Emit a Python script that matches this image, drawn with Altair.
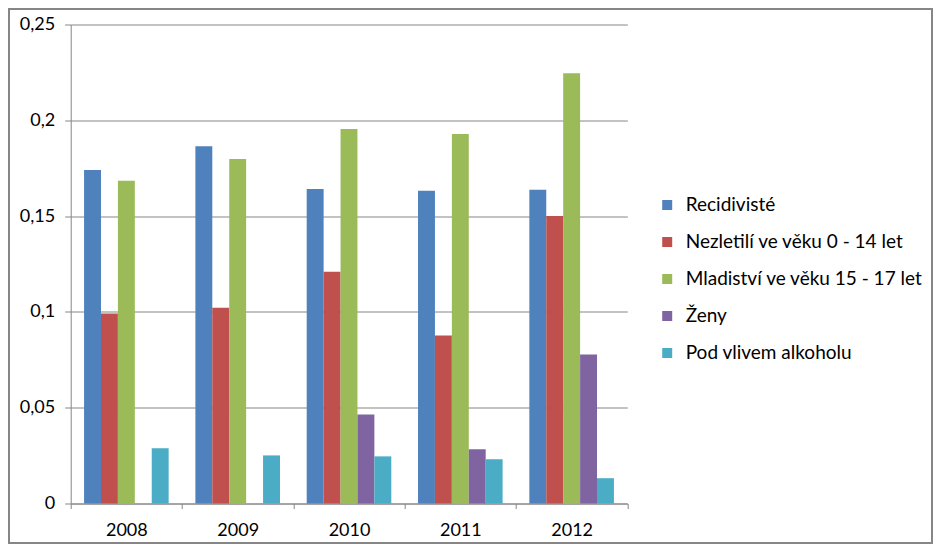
import altair as alt
import pandas as pd

roky = ["2008", "2009", "2010", "2011", "2012"]
serie = [
    "Recidivisté",
    "Nezletilí ve věku 0 - 14 let",
    "Mladiství ve věku 15 - 17 let",
    "Ženy",
    "Pod vlivem alkoholu",
]
recidiviste = [0.1741, 0.1865, 0.1642, 0.1632, 0.1637]
nezletili = [0.0991, 0.1022, 0.1210, 0.0877, 0.1500]
mladistvi = [0.1684, 0.1798, 0.1955, 0.1929, 0.2246]
zeny = [0.0, 0.0, 0.0465, 0.0283, 0.0778]
alkohol = [0.0288, 0.0251, 0.0246, 0.0231, 0.0132]
barvy = ["#4F81BD", "#C0504D", "#9BBB59", "#8064A2", "#4BACC6"]
y_ticks = [0, 0.05, 0.1, 0.15, 0.2, 0.25]

rows = []
for s, vals in zip(serie, [recidiviste, nezletili, mladistvi, zeny, alkohol]):
    for r, v in zip(roky, vals):
        rows.append({"rok": r, "serie": s, "hodnota": v})
df = pd.DataFrame(rows)

FONT = "Lato"
GRAY = "#868686"

bars = alt.Chart(df).mark_bar().encode(
    x=alt.X(
        "rok:N",
        sort=roky,
        scale=alt.Scale(paddingInner=0, paddingOuter=0),
        axis=alt.Axis(
            title=None,
            labelAngle=0,
            tickBand="extent",
            domainColor=GRAY,
            tickColor=GRAY,
            tickSize=5,
            labelPadding=13,
            labelFont=FONT,
            labelFontSize=18,
            labelColor="#000000",
            grid=False,
        ),
    ),
    xOffset=alt.XOffset(
        "serie:N", sort=serie, scale=alt.Scale(paddingInner=0, paddingOuter=0.79)
    ),
    y=alt.Y(
        "hodnota:Q",
        scale=alt.Scale(domain=[0, 0.25], nice=False),
        axis=alt.Axis(
            title=None,
            values=y_ticks,
            labelExpr="replace(toString(datum.value), '.', ',')",
            grid=True,
            gridColor=GRAY,
            gridWidth=1,
            domainColor=GRAY,
            tickColor=GRAY,
            tickSize=6,
            labelPadding=10,
            labelFont=FONT,
            labelFontSize=18,
            labelColor="#000000",
        ),
    ),
    color=alt.Color(
        "serie:N",
        sort=serie,
        scale=alt.Scale(domain=serie, range=barvy),
        legend=alt.Legend(
            title=None,
            orient="none",
            legendX=587,
            legendY=171,
            symbolType="square",
            symbolSize=100,
            symbolStrokeWidth=0,
            labelFont=FONT,
            labelFontSize=19,
            labelColor="#000000",
            labelOffset=9,
            labelLimit=0,
            rowPadding=17,
        ),
    ),
)

frame = alt.Chart(pd.DataFrame({"a": [0]})).mark_rect(
    fill=None, stroke=GRAY, strokeWidth=2, clip=False
).encode(
    x=alt.value(-61.7), x2=alt.value(861.3), y=alt.value(-15.5), y2=alt.value(518.5)
)

chart = alt.layer(bars, frame).properties(
    width=556.6,
    height=479,
    autosize=alt.AutoSizeParams(type="none"),
    padding={"left": 62.7, "top": 16.5, "right": 305.7, "bottom": 40.5},
    background="#ffffff",
).configure_view(stroke=None)

chart.save("out.html", embed_options={"renderer": "svg", "actions": False})
